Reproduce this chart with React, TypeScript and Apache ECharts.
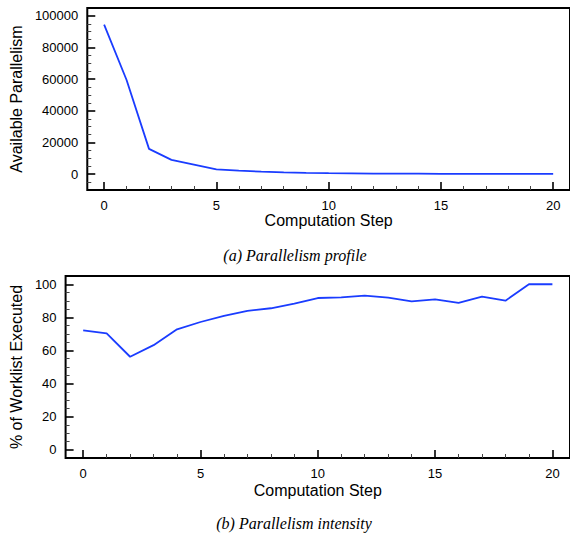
import React, { useEffect, useRef } from "react";
import * as echarts from "echarts";

const steps = [0, 1, 2, 3, 4, 5, 6, 7, 8, 9, 10, 11, 12, 13, 14, 15, 16, 17, 18, 19, 20];
const availableParallelism = [94500, 59500, 16000, 9000, 6000, 3000, 2200, 1600, 1100, 800, 600, 500, 400, 350, 300, 250, 250, 200, 200, 200, 200];
const worklistExecuted = [72.2, 70.3, 56.2, 63.2, 72.8, 77.2, 80.9, 83.9, 85.5, 88.3, 91.7, 92.1, 93.1, 91.9, 89.7, 90.9, 88.7, 92.5, 90.1, 100, 100];

const xMajorTicks = [0, 5, 10, 15, 20];
const xMinorTicks = [1, 2, 3, 4, 6, 7, 8, 9, 11, 12, 13, 14, 16, 17, 18, 19];
const topYMajorTicks = [0, 20000, 40000, 60000, 80000, 100000];
const topYMinorTicks = [-5000, 5000, 10000, 15000, 25000, 30000, 35000, 45000, 50000, 55000, 65000, 70000, 75000, 85000, 90000, 95000];
const bottomYMajorTicks = [0, 20, 40, 60, 80, 100];
const bottomYMinorTicks = [5, 10, 15, 25, 30, 35, 45, 50, 55, 65, 70, 75, 85, 90, 95];

const topTitle = "Available Parallelism";
const bottomTitle = "% of Worklist Executed";
const xTitle = "Computation Step";
const captionA = "(a) Parallelism profile";
const captionB = "(b) Parallelism intensity";

const SANS = "Liberation Sans";
const SERIF = "Liberation Serif";
const LINE = "#1a3cff";

const plain = (v: number) => String(v);

function majorX(gridIndex: number, nameGap: number) {
  return {
    type: "value",
    gridIndex,
    min: -0.75,
    max: 20.75,
    position: "bottom",
    name: xTitle,
    nameLocation: "middle",
    nameGap,
    nameTextStyle: { fontFamily: SANS, fontSize: 16, color: "#000" },
    axisLine: { show: false, onZero: false },
    axisTick: { show: true, inside: true, length: 8, customValues: xMajorTicks, lineStyle: { color: "#000", width: 1.6 } },
    axisLabel: { show: true, customValues: xMajorTicks, formatter: plain, margin: 9, fontFamily: SANS, fontSize: 13, color: "#000" },
    splitLine: { show: false },
  };
}
function minorX(gridIndex: number) {
  return {
    type: "value",
    gridIndex,
    min: -0.75,
    max: 20.75,
    position: "bottom",
    offset: 0,
    axisLine: { show: false, onZero: false },
    axisTick: { show: true, inside: true, length: 4, customValues: xMinorTicks, lineStyle: { color: "#444", width: 1 } },
    axisLabel: { show: false },
    splitLine: { show: false },
  };
}
function majorY(gridIndex: number, min: number, max: number, ticks: number[], name: string, nameGap: number) {
  return {
    type: "value",
    gridIndex,
    min,
    max,
    position: "left",
    name,
    nameLocation: "middle",
    nameGap,
    nameTextStyle: { fontFamily: SANS, fontSize: 16, color: "#000" },
    axisLine: { show: false, onZero: false },
    axisTick: { show: true, inside: true, length: 8, customValues: ticks, lineStyle: { color: "#000", width: 1.6 } },
    axisLabel: { show: true, customValues: ticks, formatter: plain, margin: 9, fontFamily: SANS, fontSize: 13, color: "#000" },
    splitLine: { show: false },
  };
}
function minorY(gridIndex: number, min: number, max: number, ticks: number[]) {
  return {
    type: "value",
    gridIndex,
    min,
    max,
    position: "left",
    offset: 0,
    axisLine: { show: false, onZero: false },
    axisTick: { show: true, inside: true, length: 4, customValues: ticks, lineStyle: { color: "#444", width: 1 } },
    axisLabel: { show: false },
    splitLine: { show: false },
  };
}

export default function App() {
  const ref = useRef<HTMLDivElement>(null);
  useEffect(() => {
    if (!ref.current) return;
    const chart = echarts.init(ref.current, null, { renderer: "svg" });
    chart.setOption({
      animation: false,
      backgroundColor: "#fff",
      grid: [
        { left: 84, top: 8, width: 489, height: 182, show: true, borderColor: "#000", borderWidth: 2, backgroundColor: "transparent" },
        { left: 64, top: 276, width: 509, height: 182, show: true, borderColor: "#000", borderWidth: 2, backgroundColor: "transparent" },
      ],
      xAxis: [majorX(0, 22), minorX(0), majorX(1, 24), minorX(1)],
      yAxis: [
        majorY(0, -10000, 105000, topYMajorTicks, topTitle, 57),
        minorY(0, -10000, 105000, topYMinorTicks),
        majorY(1, -5, 105, bottomYMajorTicks, bottomTitle, 35),
        minorY(1, -5, 105, bottomYMinorTicks),
      ],
      series: [
        {
          type: "line",
          xAxisIndex: 0,
          yAxisIndex: 0,
          data: steps.map((s, i) => [s, availableParallelism[i]]),
          showSymbol: false,
          lineStyle: { color: LINE, width: 1.8 },
        },
        {
          type: "line",
          xAxisIndex: 2,
          yAxisIndex: 2,
          data: steps.map((s, i) => [s, worklistExecuted[i]]),
          showSymbol: false,
          lineStyle: { color: LINE, width: 1.8 },
        },
      ],
      graphic: [
        {
          type: "text",
          x: 295,
          y: 255,
          style: { text: captionA, fontFamily: SERIF, fontStyle: "italic", fontSize: 16, fill: "#000", align: "center", verticalAlign: "middle" },
        },
        {
          type: "text",
          x: 294,
          y: 523,
          style: { text: captionB, fontFamily: SERIF, fontStyle: "italic", fontSize: 16, fill: "#000", align: "center", verticalAlign: "middle" },
        },
      ],
    });
    return () => chart.dispose();
  }, []);
  return <div ref={ref} style={{ position: "absolute", left: 0, top: 0, width: 570, height: 533 }} />;
}
